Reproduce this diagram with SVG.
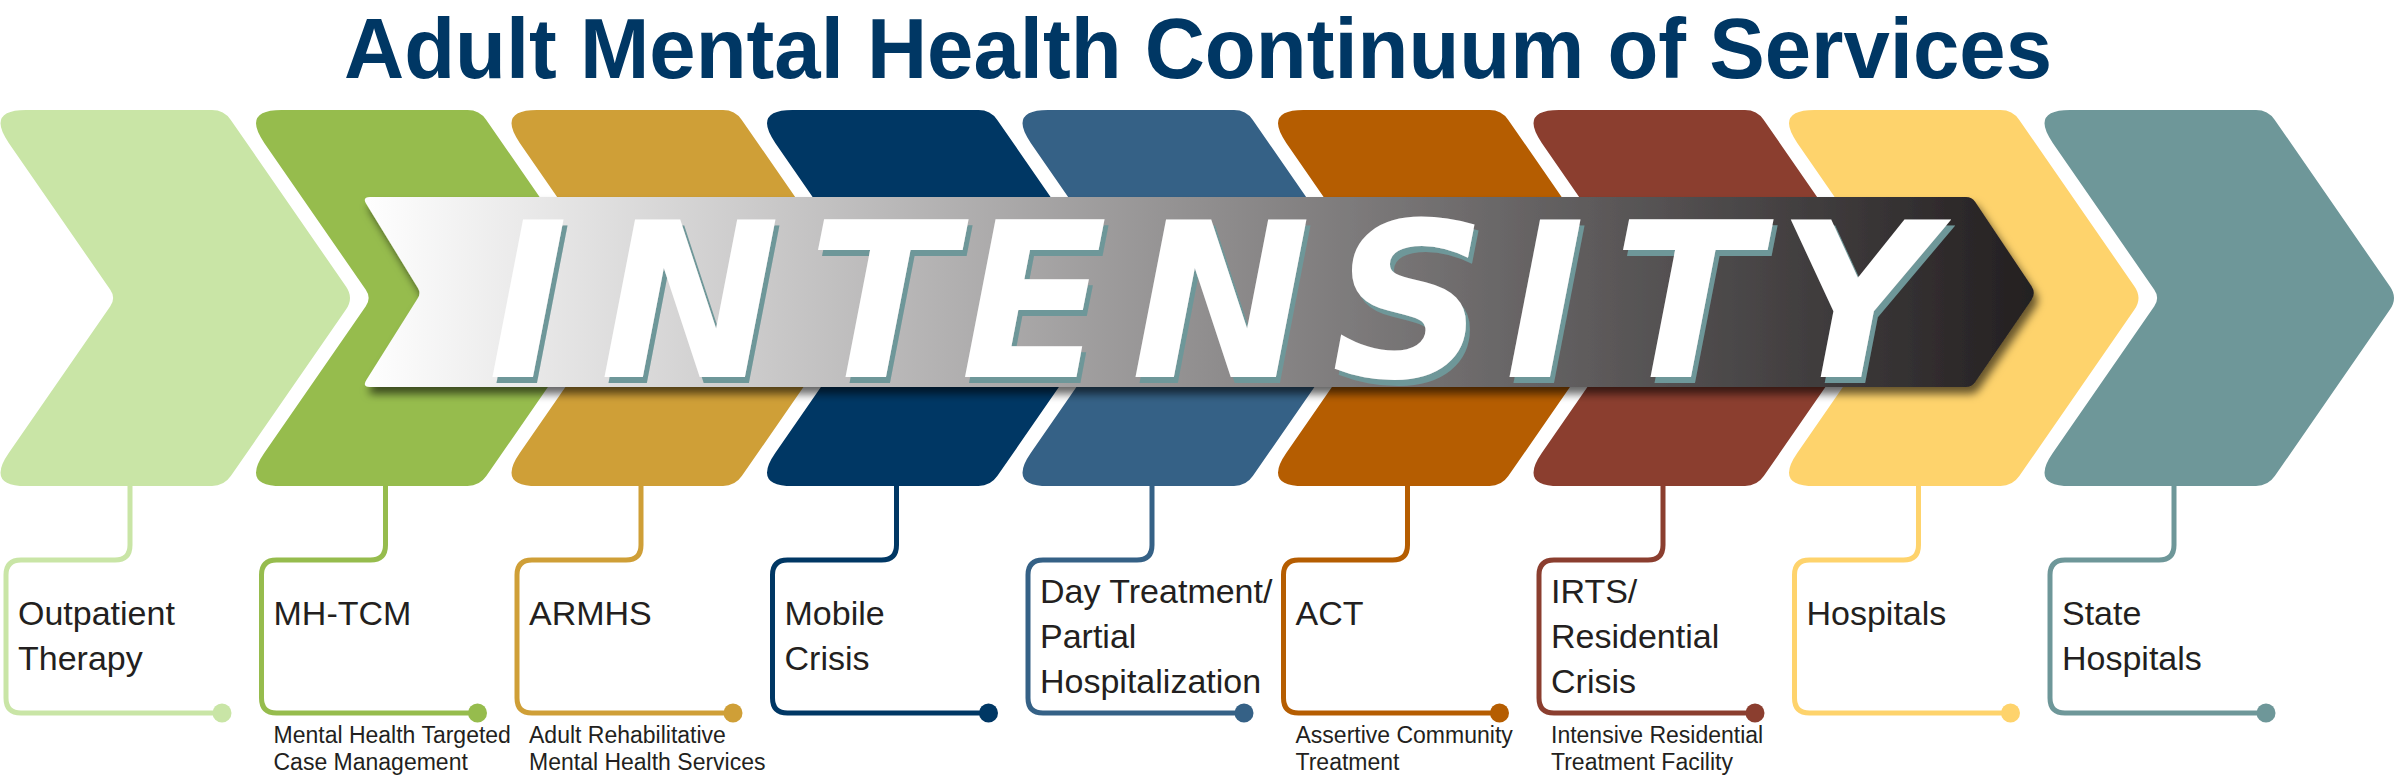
<svg xmlns="http://www.w3.org/2000/svg" width="2400" height="779" viewBox="0 0 2400 779">
<style>
.title{font-family:"Liberation Sans",Arial,sans-serif;font-weight:bold;font-size:86px;fill:#003764}
.lbl{font-family:"Liberation Sans",Arial,sans-serif;font-size:34px;fill:#231F20}
.sub{font-family:"Liberation Sans",Arial,sans-serif;font-size:23px;fill:#231F20}
.big{font-family:"DejaVu Sans",sans-serif;font-weight:bold;font-style:oblique;font-size:215px;fill:#FFFFFF}
.conn path{fill:none;stroke-width:5;stroke-linecap:round}
</style>
<defs>
<path id="chev" d="M24,110 H210 Q222,110 228.8,119.9 L344,286.5 Q352,298 344,309.5 L228.8,476.1 Q222,486 210,486 H24 Q-16,486 6.76,453.1 L108.3,306.2 Q114,298 108.3,289.8 L6.76,142.9 Q-16,110 24,110 Z"/>
<linearGradient id="bannerGrad" x1="362" y1="0" x2="2036" y2="0" gradientUnits="userSpaceOnUse">
<stop offset="0" stop-color="#FFFFFF"/>
<stop offset="1" stop-color="#231F20"/>
</linearGradient>
<filter id="shadow" x="-5%" y="-20%" width="110%" height="150%">
<feDropShadow dx="4" dy="7" stdDeviation="4" flood-color="#000" flood-opacity="0.6"/>
</filter>
<filter id="letterShadow" x="-5%" y="-10%" width="110%" height="130%">
<feDropShadow dx="4" dy="6" stdDeviation="0" flood-color="#6E9799" flood-opacity="1"/>
</filter>
</defs>
<rect width="2400" height="779" fill="#FFFFFF"/>
<text class="title" x="344" y="78" textLength="1708" lengthAdjust="spacingAndGlyphs">Adult Mental Health Continuum of Services</text>

<g id="node-outpatient">
<use href="#chev" x="2" fill="#C9E5A6"/>
<text class="lbl" x="18" y="625">Outpatient</text>
<text class="lbl" x="18" y="670">Therapy</text>
</g>
<g id="node-mhtcm">
<use href="#chev" x="257.5" fill="#96BC4D"/>
<text class="lbl" x="273.5" y="625">MH-TCM</text>
<text class="sub" x="273.5" y="743">Mental Health Targeted</text>
<text class="sub" x="273.5" y="770">Case Management</text>
</g>
<g id="node-armhs">
<use href="#chev" x="513" fill="#CF9F37"/>
<text class="lbl" x="529" y="625">ARMHS</text>
<text class="sub" x="529" y="743">Adult Rehabilitative</text>
<text class="sub" x="529" y="770">Mental Health Services</text>
</g>
<g id="node-mobile">
<use href="#chev" x="768.5" fill="#003764"/>
<text class="lbl" x="784.5" y="625">Mobile</text>
<text class="lbl" x="784.5" y="670">Crisis</text>
</g>
<g id="node-day">
<use href="#chev" x="1024" fill="#356186"/>
<text class="lbl" x="1040" y="603">Day Treatment/</text>
<text class="lbl" x="1040" y="648">Partial</text>
<text class="lbl" x="1040" y="693">Hospitalization</text>
</g>
<g id="node-act">
<use href="#chev" x="1279.5" fill="#B55D01"/>
<text class="lbl" x="1295.5" y="625">ACT</text>
<text class="sub" x="1295.5" y="743">Assertive Community</text>
<text class="sub" x="1295.5" y="770">Treatment</text>
</g>
<g id="node-irts">
<use href="#chev" x="1535" fill="#8B3E2F"/>
<text class="lbl" x="1551" y="603">IRTS/</text>
<text class="lbl" x="1551" y="648">Residential</text>
<text class="lbl" x="1551" y="693">Crisis</text>
<text class="sub" x="1551" y="743">Intensive Residential</text>
<text class="sub" x="1551" y="770">Treatment Facility</text>
</g>
<g id="node-hospitals">
<use href="#chev" x="1790.5" fill="#FED36C"/>
<text class="lbl" x="1806.5" y="625">Hospitals</text>
</g>
<g id="node-state">
<use href="#chev" x="2046" fill="#6E9799"/>
<text class="lbl" x="2062" y="625">State</text>
<text class="lbl" x="2062" y="670">Hospitals</text>
</g>

<g id="banner">
<path filter="url(#shadow)" fill="url(#bannerGrad)" d="M370,197 H1966 Q1972,197 1975.3,202 L2031.6,286.3 Q2036,293 2031.6,299.7 L1975.3,382 Q1972,387 1966,387 H370 Q362,387 366.2,380.2 L417.9,298.1 Q421,293 417.9,287.9 L366.2,203.8 Q362,197 370,197 Z"/>
<text class="big" filter="url(#letterShadow)" x="528 690 881 1034 1221 1409 1545 1686 1855" y="377" text-anchor="middle">INTENSITY</text>
</g>

<g id="connectors" class="conn">
<path stroke="#C9E5A6" transform="translate(2,0)" d="M128,486 V545 Q128,560 113,560 H19 Q4,560 4,575 V698 Q4,713 19,713 H220"/>
<path stroke="#96BC4D" transform="translate(257.5,0)" d="M128,486 V545 Q128,560 113,560 H19 Q4,560 4,575 V698 Q4,713 19,713 H220"/>
<path stroke="#CF9F37" transform="translate(513,0)" d="M128,486 V545 Q128,560 113,560 H19 Q4,560 4,575 V698 Q4,713 19,713 H220"/>
<path stroke="#003764" transform="translate(768.5,0)" d="M128,486 V545 Q128,560 113,560 H19 Q4,560 4,575 V698 Q4,713 19,713 H220"/>
<path stroke="#356186" transform="translate(1024,0)" d="M128,486 V545 Q128,560 113,560 H19 Q4,560 4,575 V698 Q4,713 19,713 H220"/>
<path stroke="#B55D01" transform="translate(1279.5,0)" d="M128,486 V545 Q128,560 113,560 H19 Q4,560 4,575 V698 Q4,713 19,713 H220"/>
<path stroke="#8B3E2F" transform="translate(1535,0)" d="M128,486 V545 Q128,560 113,560 H19 Q4,560 4,575 V698 Q4,713 19,713 H220"/>
<path stroke="#FED36C" transform="translate(1790.5,0)" d="M128,486 V545 Q128,560 113,560 H19 Q4,560 4,575 V698 Q4,713 19,713 H220"/>
<path stroke="#6E9799" transform="translate(2046,0)" d="M128,486 V545 Q128,560 113,560 H19 Q4,560 4,575 V698 Q4,713 19,713 H220"/>
<circle cx="222" cy="713" r="9.5" fill="#C9E5A6"/>
<circle cx="477.5" cy="713" r="9.5" fill="#96BC4D"/>
<circle cx="733" cy="713" r="9.5" fill="#CF9F37"/>
<circle cx="988.5" cy="713" r="9.5" fill="#003764"/>
<circle cx="1244" cy="713" r="9.5" fill="#356186"/>
<circle cx="1499.5" cy="713" r="9.5" fill="#B55D01"/>
<circle cx="1755" cy="713" r="9.5" fill="#8B3E2F"/>
<circle cx="2010.5" cy="713" r="9.5" fill="#FED36C"/>
<circle cx="2266" cy="713" r="9.5" fill="#6E9799"/>
</g>
</svg>
